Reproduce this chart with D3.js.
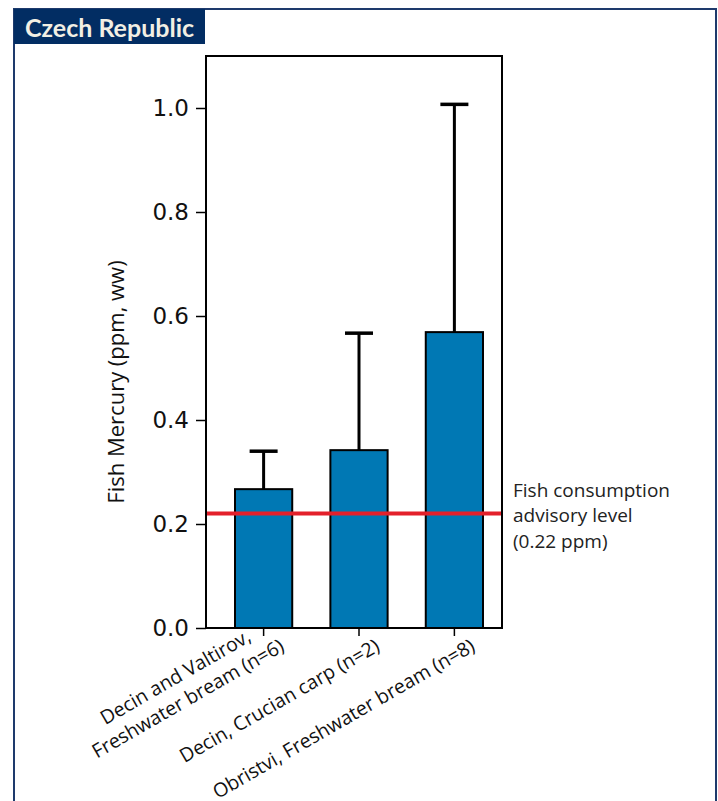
<!DOCTYPE html>
<html>
<head>
<meta charset="utf-8">
<script src="https://cdn.jsdelivr.net/npm/d3@7"></script>
<style>
body { margin: 0; background: #fff; }
svg text { font-family: "Open Sans", sans-serif; fill: #111; }
</style>
</head>
<body>
<svg></svg>
<script>
const size = {w: 718, h: 801};
const plot = {l: 206, r: 502, t: 56, b: 628};

// data
const categories = [
    ["Decin and Valtirov,", "Freshwater bream (n=6)"],
    ["Decin, Crucian carp (n=2)"],
    ["Obristvi, Freshwater bream (n=8)"]
];
const means = [0.267, 0.342, 0.569];
const errorTops = [0.340, 0.567, 1.007];
const yTicks = [0, 0.2, 0.4, 0.6, 0.8, 1.0];
const advisory = 0.22;
const advisoryLabel = ["Fish consumption", "advisory level", "(0.22 ppm)"];

const barColor = '#0078b4';
const lineColor = '#e3202b';
const navy = '#022d63';

const svg = d3.select('svg')
    .attr('width', size.w)
    .attr('height', size.h);

// panel frame + title tab
svg.append('rect')
    .attr('x', 14).attr('y', 9)
    .attr('width', 702).attr('height', 830)
    .attr('fill', 'none')
    .attr('stroke', '#1e3a6c')
    .attr('stroke-width', 2);

svg.append('rect')
    .attr('x', 14).attr('y', 9)
    .attr('width', 191).attr('height', 35)
    .attr('fill', navy);

svg.append('text')
    .attr('x', 25).attr('y', 37)
    .style('font-family', 'Lato, sans-serif')
    .style('font-weight', 'bold')
    .style('font-size', '25px')
    .style('fill', '#f2efe4')
    .text('Czech Republic');

//SCALES
let x = d3.scaleBand()
    .domain(d3.range(means.length))
    .range([235, 483])
    .paddingInner(0.4)
    .paddingOuter(0);

let y = d3.scaleLinear()
    .domain([0, 1.1])
    .range([plot.b, plot.t]);

//BARS
svg.selectAll('.bar')
    .data(means)
    .join('rect')
    .classed('bar', true)
    .attr('x', (d, i) => x(i))
    .attr('y', d => y(d))
    .attr('width', x.bandwidth())
    .attr('height', d => y(0) - y(d))
    .attr('fill', barColor)
    .attr('stroke', '#000')
    .attr('stroke-width', 2);

//ERROR BARS
let capW = 28;
let err = svg.selectAll('.err')
    .data(errorTops)
    .join('g')
    .classed('err', true)
    .attr('transform', (d, i) => `translate(${x(i) + x.bandwidth() / 2}, 0)`);

err.append('line')
    .attr('x1', 0).attr('x2', 0)
    .attr('y1', (d, i) => y(means[i]))
    .attr('y2', d => y(d))
    .attr('stroke', '#000')
    .attr('stroke-width', 3);

err.append('line')
    .attr('x1', -capW / 2).attr('x2', capW / 2)
    .attr('y1', d => y(d)).attr('y2', d => y(d))
    .attr('stroke', '#000')
    .attr('stroke-width', 3.5);

//ADVISORY LINE
svg.append('line')
    .attr('x1', plot.l).attr('x2', plot.r)
    .attr('y1', y(advisory)).attr('y2', y(advisory))
    .attr('stroke', lineColor)
    .attr('stroke-width', 4);

svg.append('text')
    .attr('x', 513)
    .attr('y', y(advisory) - 17)
    .style('font-size', '19px')
    .style('fill', '#222')
    .selectAll('tspan')
    .data(advisoryLabel)
    .join('tspan')
    .attr('x', 513)
    .attr('dy', (d, i) => i === 0 ? 0 : 25.5)
    .text(d => d);

//PLOT FRAME
svg.append('rect')
    .attr('x', plot.l).attr('y', plot.t)
    .attr('width', plot.r - plot.l)
    .attr('height', plot.b - plot.t)
    .attr('fill', 'none')
    .attr('stroke', '#000')
    .attr('stroke-width', 2);

//Y AXIS
let axisY = d3.axisLeft(y)
    .tickValues(yTicks)
    .tickFormat(d3.format('.1f'))
    .tickSize(10)
    .tickPadding(7);

let axisG = svg.append('g')
    .attr('transform', `translate(${plot.l}, 0)`)
    .call(axisY);
axisG.select('.domain').remove();
axisG.selectAll('line').attr('stroke-width', 1.5);
axisG.selectAll('text')
    .style('font-family', '"DejaVu Sans", sans-serif')
    .style('font-size', '23px')
    .attr('fill', '#111');

svg.append('text')
    .attr('transform', 'translate(124, 382) rotate(-90)')
    .attr('text-anchor', 'middle')
    .style('font-size', '22px')
    .text('Fish Mercury (ppm, ww)');

//X AXIS
let axisX = d3.axisBottom(x)
    .tickSize(8)
    .tickFormat('');
let axisXG = svg.append('g')
    .attr('transform', `translate(0, ${plot.b})`)
    .call(axisX);
axisXG.select('.domain').remove();
axisXG.selectAll('line').attr('stroke-width', 1.5);

// rotated, multi-line category labels
let labels = svg.selectAll('.xlabel')
    .data(categories)
    .join('text')
    .classed('xlabel', true)
    .attr('text-anchor', 'middle')
    .attr('transform', (d, i) => `translate(${x(i) + x.bandwidth() / 2}, ${plot.b}) rotate(-30)`)
    .style('font-size', '19.5px');

labels.selectAll('tspan')
    .data(d => d)
    .join('tspan')
    .attr('y', (d, i, nodes) => 30 - (nodes.length - 1 - i) * 25)
    .text(d => d);

// line ends of the longest row sit just right of the tick
labels.each(function() {
    let spans = d3.select(this).selectAll('tspan');
    let maxW = d3.max(spans.nodes(), n => n.getComputedTextLength());
    spans.attr('x', 8 - maxW / 2);
});
</script>
</body>
</html>
